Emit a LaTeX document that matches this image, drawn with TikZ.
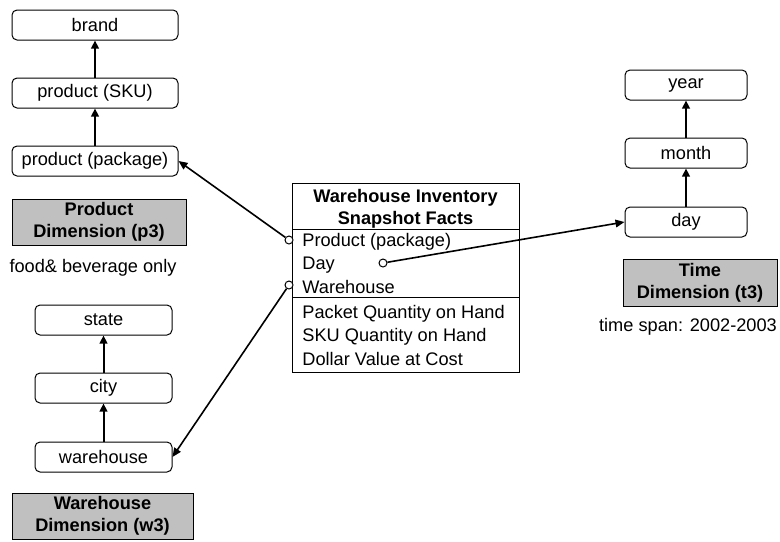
\documentclass[tikz,border=0pt]{standalone}
\usepackage{fontspec}
\setmainfont{Liberation Sans}
\usetikzlibrary{arrows.meta}
\definecolor{dimgrey}{HTML}{C0C0C0}
\begin{document}
\begin{tikzpicture}[x=0.5pt,y=-0.5pt,
  every node/.style={font=\fontsize{9.1}{11}\selectfont, inner sep=0pt},
  lvl/.style={draw, line width=0.5pt, rounded corners=2.5pt, minimum height=15pt},
  dimbox/.style={draw, line width=0.5pt, fill=dimgrey, minimum height=23pt, align=center, font=\fontsize{9.1}{11}\selectfont\bfseries},
  up/.style={line width=1pt, -{Triangle[length=4pt,width=3.8pt]}},
  link/.style={line width=0.8pt, -{Triangle[length=4.5pt,width=3.8pt]}},
  dot/.style={circle, draw, fill=white, line width=0.5pt, minimum size=4pt},
  attr/.style={anchor=west}]
\useasboundingbox (0,0) rectangle (780,541);
% Product dimension
\node[lvl, minimum width=83pt] (brand) at (95,25) {brand};
\node[lvl, minimum width=83pt] (sku) at (95,93) {product (SKU)};
\node[lvl, minimum width=83pt] (pkg) at (95,161) {product (package)};
\node[dimbox, minimum width=87pt] (pdim) at (99,222) {Product\\Dimension (p3)};
\node (pnote) at (93,268) {food\& beverage only};
\draw[up] (pkg) -- (sku);
\draw[up] (sku) -- (brand);
% Warehouse dimension
\node[lvl, minimum width=68.5pt] (state) at (103.5,320) {state};
\node[lvl, minimum width=68.5pt] (city) at (103.5,388) {city};
\node[lvl, minimum width=68.5pt] (wh) at (103.5,457) {warehouse};
\node[dimbox, minimum width=90.5pt] (wdim) at (102.5,516) {Warehouse\\Dimension (w3)};
\draw[up] (wh) -- (city);
\draw[up] (city) -- (state);
% Time dimension
\node[lvl, minimum width=61pt] (year) at (686,85) {year};
\node[lvl, minimum width=61pt] (month) at (686,153) {month};
\node[lvl, minimum width=61pt] (day) at (686,222) {day};
\node[dimbox, minimum width=77pt, minimum height=23.5pt] (tdim) at (700,282.5) {Time\\Dimension (t3)};
\node (tnote) at (688,327) {time span: 2002-2003};
\draw[up] (day) -- (month);
\draw[up] (month) -- (year);
% Fact table
\draw[line width=0.5pt] (292,183) rectangle (519,372);
\draw[line width=0.5pt] (292,229) -- (519,229);
\draw[line width=0.5pt] (292,297) -- (519,297);
\node[font=\fontsize{9.1}{11}\selectfont\bfseries, align=center] (facthead) at (405.5,209) {Warehouse Inventory\\Snapshot Facts};
\node[attr] (fp) at (302,242) {Product (package)};
\node[attr] (fd) at (302,265) {Day};
\node[attr] (fw) at (302,287) {Warehouse};
\node[attr] (m1) at (302,314) {Packet Quantity on Hand};
\node[attr] (m2) at (302,337) {SKU Quantity on Hand};
\node[attr] (m3) at (302,359) {Dollar Value at Cost};
\node[dot] (pc) at (289,240) {};
\node[dot] (wc) at (289,285) {};
\node[dot] (dc) at (383,263) {};
\draw[link] (pc) -- (pkg.east);
\draw[link] (wc) -- (wh.east);
\draw[link] (dc) -- (day.west);
\end{tikzpicture}
\end{document}
